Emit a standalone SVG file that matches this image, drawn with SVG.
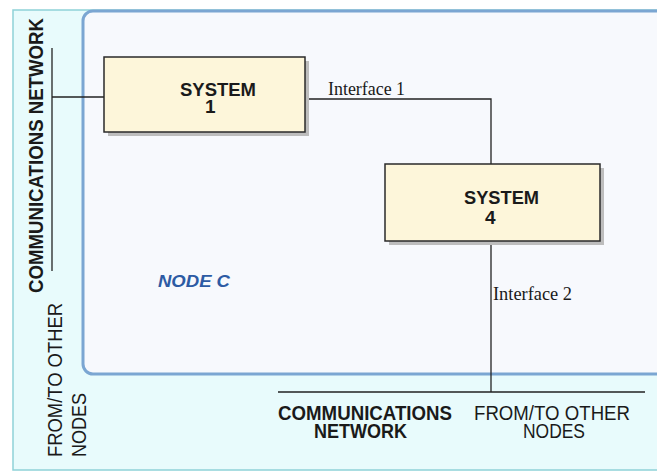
<svg xmlns="http://www.w3.org/2000/svg" width="657" height="472" viewBox="0 0 657 472">
<style>
.lbl{font-family:"Liberation Sans",Arial,sans-serif;font-size:20px;fill:#1a1a1a}
.b{font-weight:bold}
.sys{font-family:"Liberation Sans",Arial,sans-serif;font-size:19px;font-weight:bold;fill:#1a1a1a}
.ser{font-family:"Liberation Serif","Times New Roman",serif;font-size:19px;fill:#1a1a1a}
.box{fill:#fdf6da;stroke:#2a2a2a;stroke-width:1.5}
.shadow{fill:#bdbdbd}
.wire{fill:none;stroke:#222;stroke-width:1.3}
</style>
<rect width="657" height="472" fill="#ffffff"/>
<g id="outer-region">
<rect x="13" y="10" width="700" height="460" fill="#e8fbfc" stroke="#8fd2d8" stroke-width="1.5"/>
</g>
<g id="node-c">
<rect x="83" y="11" width="640" height="363" rx="10" ry="10" fill="#f7f9fd" stroke="#7ba6d2" stroke-width="3"/>
<text x="158" y="287" textLength="72" lengthAdjust="spacingAndGlyphs" style="font-family:'Liberation Sans',Arial,sans-serif;font-size:17px;font-weight:bold;font-style:italic;fill:#2d5ba4">NODE C</text>
</g>
<g id="connectors">
<line class="wire" x1="52" y1="48" x2="52" y2="271"/>
<line class="wire" x1="52" y1="97" x2="104" y2="97"/>
<polyline class="wire" points="305,99 491,99 491,164"/>
<line class="wire" x1="491" y1="241" x2="491" y2="392"/>
<line class="wire" x1="278" y1="392" x2="645" y2="392"/>
<text class="ser" x="328" y="95" textLength="77" lengthAdjust="spacingAndGlyphs">Interface 1</text>
<text class="ser" x="493" y="300" textLength="79" lengthAdjust="spacingAndGlyphs">Interface 2</text>
</g>
<g id="system-1">
<rect class="shadow" x="108" y="61" width="201" height="75"/>
<rect class="box" x="104" y="57" width="201" height="75"/>
<text class="sys" x="180" y="96" textLength="76" lengthAdjust="spacingAndGlyphs">SYSTEM</text>
<text class="sys" x="205" y="113">1</text>
</g>
<g id="system-4">
<rect class="shadow" x="389" y="168" width="215" height="77"/>
<rect class="box" x="385" y="164" width="215" height="77"/>
<text class="sys" x="464" y="204" textLength="75" lengthAdjust="spacingAndGlyphs">SYSTEM</text>
<text class="sys" x="485" y="224">4</text>
</g>
<g id="network-labels">
<text class="lbl b" transform="translate(43,293) rotate(-90)" x="0" y="0" textLength="275" lengthAdjust="spacingAndGlyphs">COMMUNICATIONS NETWORK</text>
<text class="lbl" transform="translate(62,457) rotate(-90)" x="0" y="0" textLength="154" lengthAdjust="spacingAndGlyphs">FROM/TO OTHER</text>
<text class="lbl" transform="translate(86,457) rotate(-90)" x="0" y="0" textLength="64" lengthAdjust="spacingAndGlyphs">NODES</text>
<text class="lbl b" x="278" y="420" textLength="174" lengthAdjust="spacingAndGlyphs">COMMUNICATIONS</text>
<text class="lbl b" x="314" y="438" textLength="93" lengthAdjust="spacingAndGlyphs">NETWORK</text>
<text class="lbl" x="474" y="420" textLength="156" lengthAdjust="spacingAndGlyphs">FROM/TO OTHER</text>
<text class="lbl" x="523" y="438" textLength="62" lengthAdjust="spacingAndGlyphs">NODES</text>
</g>
</svg>
